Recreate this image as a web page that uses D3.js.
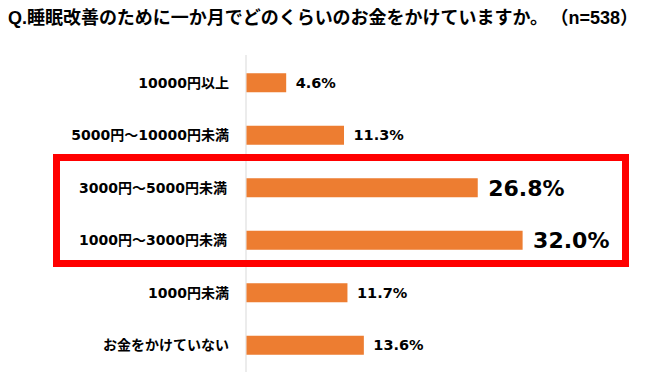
<!DOCTYPE html>
<html><head><meta charset="utf-8">
<script src="https://cdn.jsdelivr.net/npm/d3@7"></script>
<style>
html,body{margin:0;padding:0;background:#fff;}
svg{display:block;}
</style>
</head><body>
<svg id="chart" width="650" height="382"></svg>
<script>
const titleMain = "Q.睡眠改善のために一か月でどのくらいのお金をかけていますか。";
const titleN = "（n=538）";
const categories = ["10000円以上","5000円～10000円未満","3000円～5000円未満","1000円～3000円未満","1000円未満","お金をかけていない"];
const values = [4.6, 11.3, 26.8, 32.0, 11.7, 13.6];
const highlighted = ["3000円～5000円未満","1000円～3000円未満"];

const svg = d3.select("#chart");
const FONT = "'DejaVu Sans','Noto Sans CJK JP',sans-serif";
const TFONT = "'Liberation Sans','Noto Sans CJK JP',sans-serif";

const x = d3.scaleLinear().domain([0, 35]).range([246, 548]);
const y = d3.scaleBand().domain(categories).range([56.5, 371.5]).paddingInner(0.638).paddingOuter(0.319);

// title
svg.append("text")
  .attr("x", 8).attr("y", 24)
  .attr("font-family", TFONT)
  .attr("font-weight", "bold").attr("font-size", 18).attr("fill", "#000")
  .attr("textLength", 540).attr("lengthAdjust", "spacing")
  .text(titleMain);
svg.append("text")
  .attr("x", 638).attr("y", 24)
  .attr("text-anchor", "end")
  .attr("font-family", TFONT)
  .attr("font-weight", "bold").attr("font-size", 18).attr("fill", "#000")
  .text(titleN);

// axis line
svg.append("line")
  .attr("x1", x(0)).attr("x2", x(0))
  .attr("y1", 55).attr("y2", 372)
  .attr("stroke", "#d9d9d9").attr("stroke-width", 1);

// bars
svg.selectAll("rect.bar").data(categories).join("rect")
  .attr("class", "bar")
  .attr("x", x(0) + 0.5)
  .attr("y", d => y(d))
  .attr("width", (d, i) => x(values[i]) - x(0))
  .attr("height", y.bandwidth())
  .attr("fill", "#ED7D31");

// category labels
svg.selectAll("text.cat").data(categories).join("text")
  .attr("class", "cat")
  .attr("x", d => highlighted.includes(d) ? 227 : 229)
  .attr("y", d => y(d) + y.bandwidth() / 2)
  .attr("dy", "0.36em")
  .attr("text-anchor", "end")
  .attr("font-family", FONT).attr("font-weight", "bold")
  .attr("font-size", 14).attr("fill", "#000")
  .text(d => d);

// value labels
svg.selectAll("text.val").data(categories).join("text")
  .attr("class", "val")
  .attr("x", (d, i) => x(values[i]) + (highlighted.includes(d) ? 11 : 10))
  .attr("y", d => y(d) + y.bandwidth() / 2)
  .attr("dy", "0.36em")
  .attr("font-family", FONT).attr("font-weight", "bold")
  .attr("font-size", d => highlighted.includes(d) ? 22 : 14.5)
  .attr("fill", "#000")
  .text((d, i) => values[i].toFixed(1) + "%");

// highlight box
const boxTop = y(highlighted[0]) - 20.75;
const boxBottom = y(highlighted[1]) + y.bandwidth() + 13.75;
svg.append("rect")
  .attr("x", 56.5).attr("y", boxTop)
  .attr("width", 625.5 - 56.5).attr("height", boxBottom - boxTop)
  .attr("fill", "none").attr("stroke", "#FF0000").attr("stroke-width", 7);
</script>
</body></html>
